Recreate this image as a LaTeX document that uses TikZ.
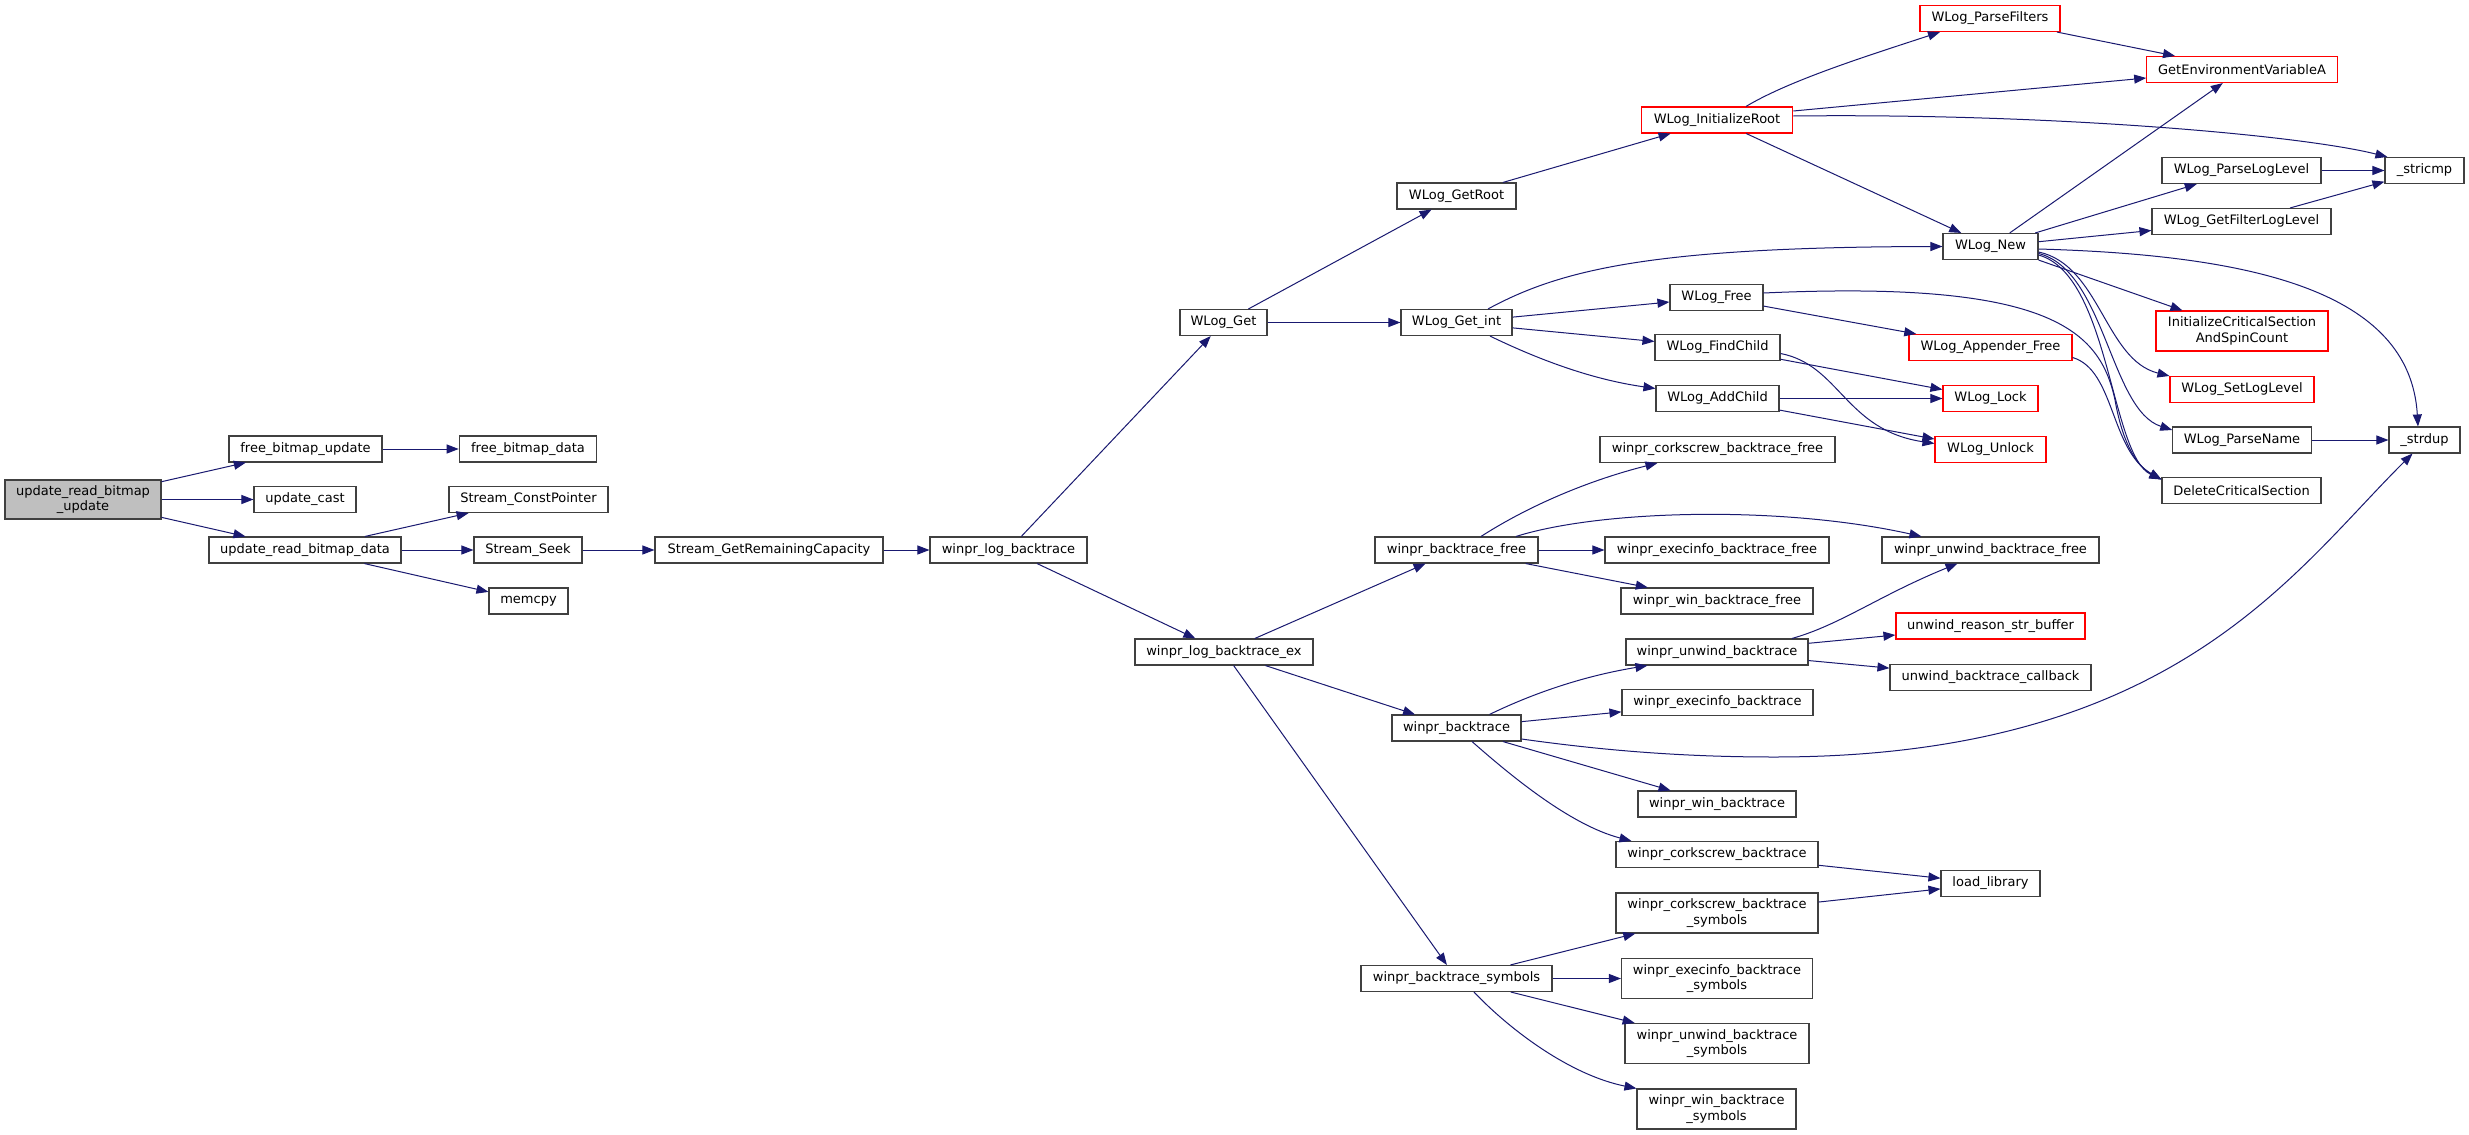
\documentclass[tikz,border=0pt]{standalone}
\usepackage{fontspec}
\newfontfamily\dv{DejaVu Sans}
\usetikzlibrary{arrows.meta,calc}
\definecolor{edgecol}{HTML}{191970}
\definecolor{bordcol}{HTML}{404040}
\definecolor{rootfill}{HTML}{BFBFBF}
\definecolor{redcol}{HTML}{FF0000}
\tikzset{
  nb/.style={draw=bordcol, line width=1.1pt, fill=white, inner sep=0pt, align=center,
    font=\dv\fontsize{13}{15.5}\selectfont, text=black},
  nr/.style={nb, draw=redcol},
  e/.style={draw=edgecol, line width=1pt, -{Triangle[length=12pt,width=9pt,fill=edgecol]}},
}
\begin{document}
\begin{tikzpicture}[x=1pt,y=-1pt]
\useasboundingbox[fill=white] (0,0) rectangle (2469,1135);
% column 1
\node[nb, fill=rootfill, minimum width=156pt, minimum height=39pt] (root) at (83,499.5) {update\_read\_bitmap\\\_update};
% column 2
\node[nb, minimum width=153pt, minimum height=26pt] (fbu) at (305.5,449) {free\_bitmap\_update};
\node[nb, minimum width=102pt, minimum height=26pt] (uc) at (305,499.5) {update\_cast};
\node[nb, minimum width=192pt, minimum height=26pt] (urbd) at (305,550) {update\_read\_bitmap\_data};
% column 3
\node[nb, minimum width=137.5pt, minimum height=26pt] (fbd) at (528,449) {free\_bitmap\_data};
\node[nb, minimum width=159pt, minimum height=26pt] (scp) at (528.5,499.5) {Stream\_ConstPointer};
\node[nb, minimum width=108pt, minimum height=26pt] (ss) at (528,550) {Stream\_Seek};
\node[nb, minimum width=79pt, minimum height=26pt] (mc) at (528.5,601) {memcpy};
% column 4,5
\node[nb, minimum width=228pt, minimum height=26pt] (sgrc) at (769,550) {Stream\_GetRemainingCapacity};
\node[nb, minimum width=157pt, minimum height=26pt] (wlb) at (1008.5,550) {winpr\_log\_backtrace};
% column 6
\node[nb, minimum width=87pt, minimum height=26pt] (wg) at (1223.5,322.5) {WLog\_Get};
\node[nb, minimum width=178pt, minimum height=26pt] (wlbe) at (1224,652) {winpr\_log\_backtrace\_ex};
% column 7
\node[nb, minimum width=119pt, minimum height=26pt] (wgr) at (1456.5,196) {WLog\_GetRoot};
\node[nb, minimum width=111pt, minimum height=26pt] (wgi) at (1456.5,322.5) {WLog\_Get\_int};
\node[nb, minimum width=163pt, minimum height=26pt] (wbf) at (1456.5,550) {winpr\_backtrace\_free};
\node[nb, minimum width=129pt, minimum height=26pt] (wb) at (1456.5,728) {winpr\_backtrace};
\node[nb, minimum width=191pt, minimum height=26pt] (wbs) at (1456.5,978.5) {winpr\_backtrace\_symbols};
% column 8
\node[nr, minimum width=151.5pt, minimum height=26pt] (wir) at (1717,120) {WLog\_InitializeRoot};
\node[nb, minimum width=93pt, minimum height=26pt] (wf) at (1716.5,297.5) {WLog\_Free};
\node[nb, minimum width=125pt, minimum height=26pt] (wfc) at (1717.5,347.5) {WLog\_FindChild};
\node[nb, minimum width=123pt, minimum height=26pt] (wac) at (1717.5,398.5) {WLog\_AddChild};
\node[nb, minimum width=235pt, minimum height=26pt] (wcbf) at (1717.5,449.5) {winpr\_corkscrew\_backtrace\_free};
\node[nb, minimum width=224pt, minimum height=26pt] (webf) at (1717,550) {winpr\_execinfo\_backtrace\_free};
\node[nb, minimum width=192pt, minimum height=26pt] (wwbf) at (1717,601) {winpr\_win\_backtrace\_free};
\node[nb, minimum width=182pt, minimum height=26pt] (wub) at (1717,652) {winpr\_unwind\_backtrace};
\node[nb, minimum width=191pt, minimum height=26pt] (web) at (1717.5,702.5) {winpr\_execinfo\_backtrace};
\node[nb, minimum width=158pt, minimum height=26pt] (wwb) at (1717,804) {winpr\_win\_backtrace};
\node[nb, minimum width=202pt, minimum height=26pt] (wcb) at (1717,854.5) {winpr\_corkscrew\_backtrace};
\node[nb, minimum width=202pt, minimum height=40pt] (wcbs) at (1717,913) {winpr\_corkscrew\_backtrace\\\_symbols};
\node[nb, minimum width=191pt, minimum height=40pt] (webs) at (1717,978.5) {winpr\_execinfo\_backtrace\\\_symbols};
\node[nb, minimum width=184pt, minimum height=40pt] (wubs) at (1717,1043.5) {winpr\_unwind\_backtrace\\\_symbols};
\node[nb, minimum width=159pt, minimum height=40pt] (wwbs) at (1716.5,1109) {winpr\_win\_backtrace\\\_symbols};
% column 9
\node[nr, minimum width=140pt, minimum height=26pt] (wpf) at (1990,18.5) {WLog\_ParseFilters};
\node[nb, minimum width=95pt, minimum height=26pt] (wn) at (1990.5,246.5) {WLog\_New};
\node[nr, minimum width=163pt, minimum height=26pt] (waf) at (1990.5,347.5) {WLog\_Appender\_Free};
\node[nr, minimum width=95pt, minimum height=26pt] (wlock) at (1990.5,398.5) {WLog\_Lock};
\node[nr, minimum width=111pt, minimum height=26pt] (wunlock) at (1990.5,449.5) {WLog\_Unlock};
\node[nb, minimum width=217pt, minimum height=26pt] (wubf) at (1990.5,550) {winpr\_unwind\_backtrace\_free};
\node[nr, minimum width=189pt, minimum height=26pt] (ursb) at (1990.5,626) {unwind\_reason\_str\_buffer};
\node[nb, minimum width=201pt, minimum height=26pt] (ubc) at (1990.5,677.5) {unwind\_backtrace\_callback};
\node[nb, minimum width=99pt, minimum height=26pt] (ll) at (1990.5,883.5) {load\_library};
% column 10
\node[nr, minimum width=190.5pt, minimum height=26pt] (gev) at (2242,69.5) {GetEnvironmentVariableA};
\node[nb, minimum width=159pt, minimum height=26pt] (wpll) at (2241.5,170.5) {WLog\_ParseLogLevel};
\node[nb, minimum width=179pt, minimum height=26pt] (wgfl) at (2241.5,221.5) {WLog\_GetFilterLogLevel};
\node[nr, minimum width=172pt, minimum height=40pt] (icsasc) at (2242,331) {InitializeCriticalSection\\AndSpinCount};
\node[nr, minimum width=144pt, minimum height=26pt] (wsll) at (2242,389.5) {WLog\_SetLogLevel};
\node[nb, minimum width=138.5pt, minimum height=26pt] (wpn) at (2242,440) {WLog\_ParseName};
\node[nb, minimum width=159pt, minimum height=26pt] (dcs) at (2241.5,490.5) {DeleteCriticalSection};
% column 11
\node[nb, minimum width=79pt, minimum height=26pt] (stricmp) at (2424.5,170.5) {\_stricmp};
\node[nb, minimum width=71pt, minimum height=26pt] (strdup) at (2424.5,440) {\_strdup};

% ---- edges ----
\draw[e] (root) -- (fbu);
\draw[e] (root) -- (uc);
\draw[e] (root) -- (urbd);
\draw[e] (fbu) -- (fbd);
\draw[e] (urbd) -- (scp);
\draw[e] (urbd) -- (ss);
\draw[e] (urbd) -- (mc);
\draw[e] (ss) -- (sgrc);
\draw[e] (sgrc) -- (wlb);
\draw[e] (wlb) -- (wg);
\draw[e] (wlb) -- (wlbe);
\draw[e] (wg) -- (wgr);
\draw[e] (wg) -- (wgi);
\draw[e] (wgr) -- (wir);
\draw[e] ($(wir.north)+(29,0)$) .. controls (1790,80) and (1870,55) .. ($(wpf.south)+(-50,0)$);
\draw[e] ($(wir.east)+(0,-9)$) -- ($(gev.west)+(0,8.5)$);
\draw[e] ($(wir.east)+(0,-4)$) .. controls (2050,113) and (2300,135) .. ($(stricmp.north west)+(3,0)$);
\draw[e] (wir) -- (wn);
\draw[e] (wpf) -- (gev);
\draw[e] ($(wgi.north)+(31.5,0)$) .. controls (1560,270) and (1650,247) .. (wn.west);
\draw[e] (wgi) -- (wf);
\draw[e] (wgi) -- (wfc);
\draw[e] ($(wgi.south)+(33.5,0)$) .. controls (1560,370) and (1610,382) .. ($(wac.west)+(0,-10)$);
\draw[e] (wn) -- (gev);
\draw[e] (wn) -- (wpll);
\draw[e] (wn) -- (wgfl);
\draw[e] ($(wn.east)+(0,2.5)$) .. controls (2250,255) and (2410,290) .. ($(strdup.north)+(-6.5,0)$);
\draw[e] (wn.south east) -- ($(icsasc.north west)+(27,0)$);
\draw[e] ($(wn.east)+(0,5.5)$) .. controls (2100,265) and (2105,360) .. (wsll.north west);
\draw[e] ($(wn.east)+(0,7)$) .. controls (2105,270) and (2110,410) .. ($(wpn.west)+(0,-10)$);
\draw[e] ($(wn.east)+(0,8.5)$) .. controls (2110,275) and (2110,455) .. ($(dcs.west)+(0,-11)$);
\draw[e] (wpll) -- (stricmp);
\draw[e] (wgfl) -- (stricmp);
\draw[e] (wf) -- (waf);
\draw[e] ($(wf.east)+(0,-4.5)$) .. controls (2050,280) and (2100,330) .. (2115,400) .. controls (2122,440) and (2135,465) .. ($(dcs.west)+(0,-11)$);
\draw[e] ($(waf.east)+(0,10)$) .. controls (2115,370) and (2110,450) .. ($(dcs.west)+(0,-11)$);
\draw[e] (wfc) -- (wlock);
\draw[e] ($(wfc.east)+(0,6)$) .. controls (1840,365) and (1845,430) .. ($(wunlock.west)+(0,-6)$);
\draw[e] (wac) -- (wlock);
\draw[e] (wac) -- (wunlock);
\draw[e] (wpn) -- (strdup);
\draw[e] (wlbe) -- (wbf);
\draw[e] (wlbe) -- (wb);
\draw[e] (wlbe) -- (wbs);
\draw[e] ($(wbf.north)+(24.5,0)$) .. controls (1530,505) and (1590,480) .. ($(wcbf.south west)+(58,0)$);
\draw[e] ($(wbf.north)+(59.5,0)$) .. controls (1600,510) and (1780,505) .. ($(wubf.north west)+(40,0)$);
\draw[e] (wbf) -- (webf);
\draw[e] (wbf) -- (wwbf);
\draw[e] ($(wb.north)+(33,0)$) .. controls (1540,690) and (1590,675) .. ($(wub.south west)+(22,0)$);
\draw[e] (wb) -- (web);
\draw[e] ($(wb.east)+(0,11)$) .. controls (1600,750) and (1680,757) .. (1774,757) .. controls (2174,757) and (2292,573) .. ($(strdup.south)+(-12,0)$);
\draw[e] (wb) -- (wwb);
\draw[e] ($(wb.south)+(15.5,0)$) .. controls (1510,775) and (1570,825) .. ($(wcb.north west)+(16,0)$);
\draw[e] ($(wub.north)+(75,0)$) .. controls (1840,625) and (1880,595) .. ($(wubf.south)+(-33,0)$);
\draw[e] (wub) -- (ursb);
\draw[e] (wub) -- (ubc);
\draw[e] (wcb) -- (ll);
\draw[e] (wcbs) -- (ll);
\draw[e] (wbs) -- (wcbs);
\draw[e] (wbs) -- (webs);
\draw[e] (wbs) -- (wubs);
\draw[e] ($(wbs.south)+(17.5,0)$) .. controls (1510,1030) and (1570,1075) .. (wwbs.north west);
\end{tikzpicture}
\end{document}
